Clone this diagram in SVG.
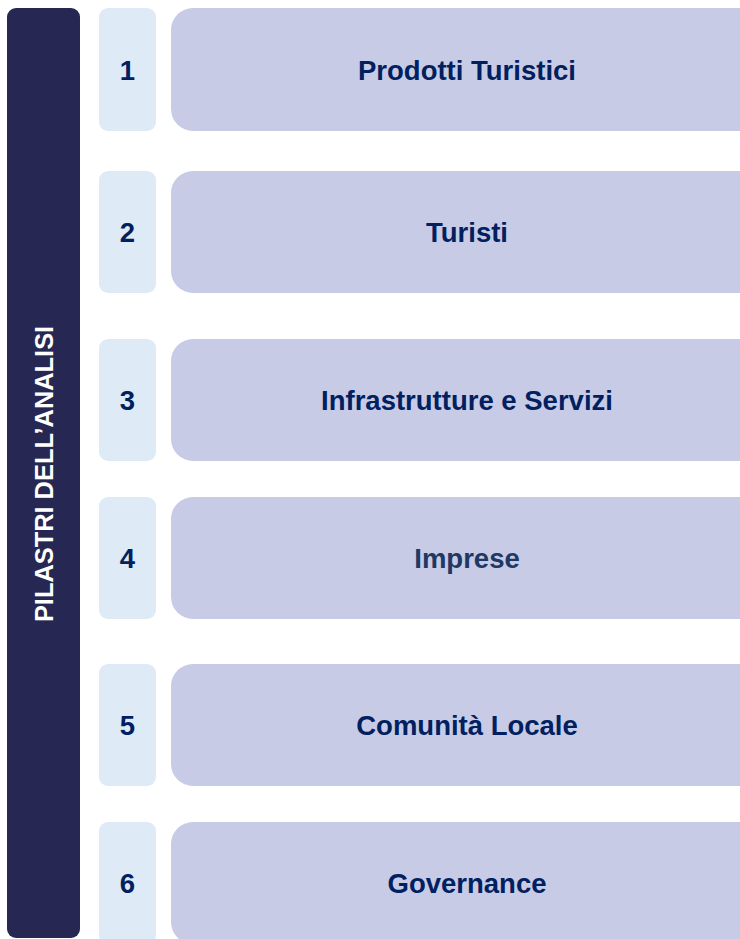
<svg xmlns="http://www.w3.org/2000/svg" width="740" height="939" viewBox="0 0 740 939">
<style>
.bar{fill:#262853}
.num{fill:#DEEAF6}
.main{fill:#C8CBE6}
.t{font-family:"Liberation Sans",Arial,sans-serif;font-weight:bold;font-size:27.5px;fill:#002060;text-anchor:middle}
.v{font-family:"Liberation Sans",Arial,sans-serif;font-weight:bold;font-size:25.4px;fill:#FFFFFF;text-anchor:middle}
</style>
<rect width="740" height="939" fill="#FFFFFF"/>
<g id="pilastri">
<rect class="bar" x="7" y="8" width="73" height="930" rx="9"/>
<text class="v" transform="translate(53,474) rotate(-90)">PILASTRI DELL’ANALISI</text>
</g>
<g id="connectors"></g>
<g id="row1">
<rect class="num" x="99" y="8" width="57" height="123" rx="9"/>
<text class="t" x="127.5" y="79.5">1</text>
<rect class="main" x="171" y="8" width="620" height="123" rx="22"/>
<text class="t" x="467" y="79.5">Prodotti Turistici</text>
</g>
<g id="row2">
<rect class="num" x="99" y="171" width="57" height="122" rx="9"/>
<text class="t" x="127.5" y="241.5">2</text>
<rect class="main" x="171" y="171" width="620" height="122" rx="22"/>
<text class="t" x="467" y="241.5">Turisti</text>
</g>
<g id="row3">
<rect class="num" x="99" y="339" width="57" height="122" rx="9"/>
<text class="t" x="127.5" y="409.5">3</text>
<rect class="main" x="171" y="339" width="620" height="122" rx="22"/>
<text class="t" x="467" y="409.5">Infrastrutture e Servizi</text>
</g>
<g id="row4">
<rect class="num" x="99" y="497" width="57" height="122" rx="9"/>
<text class="t" x="127.5" y="567.5">4</text>
<rect class="main" x="171" y="497" width="620" height="122" rx="22"/>
<text class="t" x="467" y="567.5" style="fill:#203864">Imprese</text>
</g>
<g id="row5">
<rect class="num" x="99" y="664" width="57" height="122" rx="9"/>
<text class="t" x="127.5" y="734.5">5</text>
<rect class="main" x="171" y="664" width="620" height="122" rx="22"/>
<text class="t" x="467" y="734.5">Comunità Locale</text>
</g>
<g id="row6">
<rect class="num" x="99" y="822" width="57" height="122" rx="9"/>
<text class="t" x="127.5" y="892.5">6</text>
<rect class="main" x="171" y="822" width="620" height="122" rx="22"/>
<text class="t" x="467" y="892.5">Governance</text>
</g>
</svg>
